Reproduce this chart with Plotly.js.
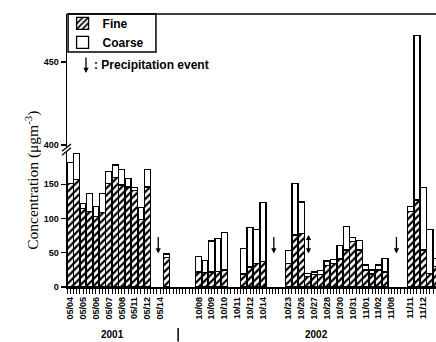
<!DOCTYPE html>
<html><head><meta charset="utf-8">
<script src="https://cdn.plot.ly/plotly-3.0.1.min.js"></script>
<style>html,body{margin:0;padding:0;background:#fff}#chart{width:436px;height:342px}</style>
</head><body><div id="chart"></div>
<script>
// sample slots (two samples per labelled date), null = no sample
const slots = Array.from({length: 58}, (_, i) => i);
const total = [182,195,122,136,117,136,169,178,171,158,145,116,171,null,null,48,null,null,null,null,
  45,39,67,71,80,null,null,56,87,84,123,null,null,null,53,151,124,20,22,24,38,40,61,88,72,68,32,25,32,42,
  null,null,null,117,466,145,84,42];
const fine = [151,157,115,110,103,109,151,160,149,146,141,98,146,null,null,43,null,null,null,null,
  22,21,22,23,25,null,null,19,29,34,37,null,null,null,34,76,78,15,18,18,31,34,41,54,66,54,25,19,25,22,
  null,null,null,110,127,54,20,30];
const coarse = total.map((t, i) => t === null ? null : t - fine[i]);
const labelSlots = [0,2,4,6,8,10,12,14,20,22,24,26,28,30,34,36,38,40,42,44,46,48,50,53,55,57];
const labelText = ['05/04','05/05','05/06','05/07','05/08','05/11','05/12','05/14',
  '10/08','10/09','10/10','10/11','10/12','10/14',
  '10/23','10/26','10/27','10/28','10/30','10/31','11/01','11/02','11/08','11/11','11/12','11/13'];
const rainSlots = [13.7, 31.7, 50.8];
const rainDouble = [37.1];

const lineStyle = {color: '#000', width: 1.3};
const fineMarker = {color: '#fff', line: lineStyle,
  pattern: {shape: '/', fgcolor: '#000', bgcolor: '#fff', size: 5, solidity: 0.45}};
const coarseMarker = {color: '#fff', line: lineStyle};

const traces = [
  {type: 'bar', name: 'Fine', x: slots, y: fine, marker: fineMarker, yaxis: 'y'},
  {type: 'bar', name: 'Coarse', x: slots, y: coarse, marker: coarseMarker, yaxis: 'y'},
  {type: 'bar', name: 'Fine', x: slots, y: fine, marker: fineMarker, yaxis: 'y2', showlegend: false},
  {type: 'bar', name: 'Coarse', x: slots, y: coarse, marker: coarseMarker, yaxis: 'y2', showlegend: false}
];

const bold = (s) => ({family: 'Liberation Sans, Arial, sans-serif', size: s, color: '#000', weight: 'bold'});

const annotations = [];
rainSlots.forEach(s => annotations.push({x: s, y: 49, xref: 'x', yref: 'y', text: '', showarrow: true,
  ax: 0, ay: -18, arrowhead: 2, arrowsize: 0.8, arrowwidth: 1.3, arrowcolor: '#000'}));
rainDouble.forEach(s => annotations.push({x: s, y: 49, xref: 'x', yref: 'y', text: '', showarrow: true,
  ax: 0, ay: -20, arrowhead: 2, startarrowhead: 2, arrowside: 'end+start', arrowsize: 0.8, arrowwidth: 1.3, arrowcolor: '#000'}));
annotations.push({x: 0.0515, y: 0.784, xref: 'paper', yref: 'paper', text: '', showarrow: true,
  ax: 0, ay: -17, arrowhead: 2, arrowsize: 0.8, arrowwidth: 1.3, arrowcolor: '#000'});
annotations.push({x: 0.068, y: 0.813, xref: 'paper', yref: 'paper', xanchor: 'left', yanchor: 'middle',
  text: ': Precipitation event', showarrow: false, font: bold(12)});
annotations.push({x: 6.5, y: -0.2, xref: 'x', yref: 'paper', text: '2001', showarrow: false, font: bold(10)});
annotations.push({x: 38.4, y: -0.203, xref: 'x', yref: 'paper', text: '2002', showarrow: false, font: bold(10)});
annotations.push({x: -0.128, y: 0.39, xref: 'paper', yref: 'paper', text: 'Concentration (μgm<sup>-3</sup>)',
  textangle: -90, showarrow: false, font: {family: 'Liberation Serif, Times New Roman, serif', size: 15.5, color: '#000'}});

const shapes = [
  {type: 'line', xref: 'paper', yref: 'paper', x0: 0, x1: 1, y0: 1, y1: 1, line: {color: '#000', width: 1.5}},
  {type: 'rect', xref: 'paper', yref: 'paper', x0: 0.003, x1: 0.241, y0: 0.861, y1: 1, line: {color: '#000', width: 1.5}},
  {type: 'line', xref: 'paper', yref: 'paper', x0: -0.0005, x1: -0.0005, y0: 0.497, y1: 0.51, line: {color: '#fff', width: 3}},
  {type: 'line', xref: 'paper', yref: 'paper', x0: -0.0136, x1: 0.0108, y0: 0.483, y1: 0.51, line: {color: '#000', width: 1.3}},
  {type: 'line', xref: 'paper', yref: 'paper', x0: -0.0136, x1: 0.0108, y0: 0.497, y1: 0.524, line: {color: '#000', width: 1.3}},
  {type: 'line', xref: 'x', yref: 'paper', x0: 16.8, x1: 16.8, y0: -0.15, y1: -0.2, line: {color: '#000', width: 1.5}}
];

const layout = {
  width: 436, height: 342,
  margin: {l: 67, r: 0, t: 14, b: 55, autoexpand: false},
  paper_bgcolor: '#fff', plot_bgcolor: '#fff',
  barmode: 'stack', bargap: 0.06,
  showlegend: true,
  legend: {x: -0.012, y: 1.019, xanchor: 'left', yanchor: 'top', bgcolor: 'rgba(0,0,0,0)', borderwidth: 0,
    font: bold(12), traceorder: 'normal', tracegroupgap: 0, itemwidth: 30},
  xaxis: {range: [-0.51, 56.96], tickmode: 'array', tickvals: labelSlots, ticktext: labelText, tickangle: -90,
    tickfont: bold(9), ticks: 'outside', ticklen: 5, tickwidth: 1, tickcolor: '#000',
    showline: true, linecolor: '#000', linewidth: 1.5, showgrid: false, zeroline: false, fixedrange: true,
    minor: {tickmode: 'linear', tick0: -0.5, dtick: 0.5, ticks: 'outside', ticklen: 5, tickwidth: 1, tickcolor: '#000', showgrid: false}},
  yaxis: {domain: [0, 0.502], range: [0, 200], tickvals: [0, 50, 100, 150], ticks: 'outside', ticklen: 5,
    tickwidth: 1.2, tickcolor: '#000', tickfont: bold(9), showline: true, linecolor: '#000', linewidth: 1.5,
    showgrid: false, zeroline: false},
  yaxis2: {domain: [0.502, 1], range: [397, 479], tickvals: [400, 450], anchor: 'x', ticks: 'outside', ticklen: 5,
    tickwidth: 1.2, tickcolor: '#000', tickfont: bold(9), showline: true, linecolor: '#000', linewidth: 1.5,
    showgrid: false, zeroline: false},
  annotations: annotations,
  shapes: shapes
};

Plotly.newPlot('chart', traces, layout, {displayModeBar: false, staticPlot: true});
</script></body></html>
